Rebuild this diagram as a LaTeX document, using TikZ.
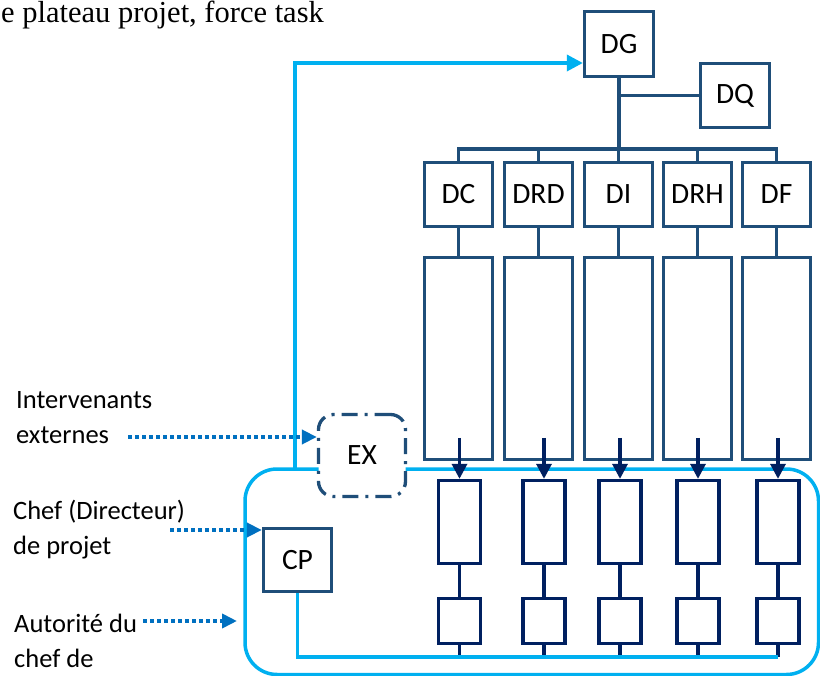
\documentclass[tikz,border=0pt]{standalone}
\usepackage{fontspec}
\setmainfont{Carlito}
\newfontfamily\titlefont{Liberation Serif}
\usetikzlibrary{arrows.meta,calc}

\definecolor{boxblue}{RGB}{31,78,121}
\definecolor{navy}{RGB}{0,32,96}
\definecolor{skyline}{RGB}{0,176,240}
\definecolor{dotblue}{RGB}{0,112,192}

\tikzset{
	dirbox/.style={draw=boxblue, line width=3.3pt, fill=white, inner sep=0pt,
		minimum width=68pt, font=\fontsize{29.5}{29.5}\selectfont},
	teambox/.style={draw=navy, line width=3.3pt, fill=white, inner sep=0pt, minimum width=42pt},
	dirline/.style={draw=boxblue, line width=3.3pt},
	teamline/.style={draw=navy, line width=3.3pt},
	teamarrow/.style={draw=navy, line width=3.3pt, -{Triangle[length=15pt,width=15pt]}},
	skypath/.style={draw=skyline, line width=3.5pt},
	dotarrow/.style={draw=dotblue, line width=4pt, dash pattern=on 3.5pt off 3.5pt,
		-{Triangle[length=15pt,width=14pt]}},
	sidelabel/.style={anchor=west, align=left, inner sep=0pt, font=\fontsize{26.5}{35}\selectfont}
}

\begin{document}
\begin{tikzpicture}[x=1pt,y=-1pt]
	\useasboundingbox (0,0) rectangle (820,676);
	% title
	\node[anchor=base west, inner sep=0pt, font=\titlefont\fontsize{30.5}{30.5}\selectfont] (title) at (1,23) {e plateau projet, force task};
	
	% project frame
	\draw[skypath, rounded corners=32pt] (245,469) rectangle (818.5,674.5);
	
	% top of the tree
	\node[dirbox, minimum height=65pt, minimum width=69pt] (dg) at (619,44) {DG};
	\node[dirbox, minimum height=64pt, minimum width=69pt] (dq) at (735,95.5) {DQ};
	\coordinate (bus) at (619,149);
	\coordinate (base) at (0,657);
	\draw[dirline] (dg.south) -- (bus);
	\draw[dirline] (dg.south |- dq.west) -- (dq.west);
	
	% directions and teams
	\foreach \n/\t/\x/\xx in {1/DC/458.5/459.5, 2/DRD/538.5/544, 3/DI/618.5/620, 4/DRH/697.5/698, 5/DF/776.5/778}{
		\node[dirbox, minimum height=64pt] (d\n) at (\x,194.5) {\t};
		\node[dirbox, minimum height=202pt] (m\n) at (\x,358.5) {};
		\node[teambox, minimum height=83pt] (t\n) at (\xx,522) {};
		\node[teambox, minimum height=45pt] (s\n) at (\xx,621) {};
		\draw[dirline] (bus) -| (d\n.north);
		\draw[dirline] (d\n.south) -- (m\n.north);
		\draw[teamline] (t\n.south) -- (s\n.north);
		\draw[teamline] (s\n.south) -- (s\n.south |- base);
	}
	
	% external people
	\node[dirbox, dash pattern=on 16pt off 7pt on 3pt off 7pt, rounded corners=15pt,
		minimum width=87pt, minimum height=82pt] (ex) at (362,455.5) {EX};
	% project leader
	\node[dirbox, minimum width=68pt, minimum height=63pt] (cp) at (297.5,560) {CP};
	
	% blue links
	\coordinate (rise) at (295,469);
	\draw[skypath, -{Triangle[length=16pt,width=16pt]}] (rise) |- (dg.west |- 0,63);
	\draw[skypath] (cp.south) |- (s5.south |- base);
	
	\foreach \n in {1,...,5}
		\draw[teamarrow] ($(t\n.north)+(0,-41)$) -- (t\n.north);
	
	% side labels
	\node[sidelabel] (ext) at (16,417.5) {Intervenants\\externes};
	\node[sidelabel] (chef) at (13,529.5) {Chef (Directeur)\\de projet};
	\node[sidelabel] (auth) at (14,640.5) {Autorité du\\chef de};
	\coordinate (extstart) at (128,437);
	\coordinate (chefstart) at (170,530);
	\coordinate (authstart) at (143,621);
	\coordinate (authend) at (237,621);
	\draw[dotarrow] (extstart) -- (extstart -| ex.west);
	\draw[dotarrow] (chefstart) -- (chefstart -| cp.west);
	\draw[dotarrow] (authstart) -- (authend);
\end{tikzpicture}
\end{document}
